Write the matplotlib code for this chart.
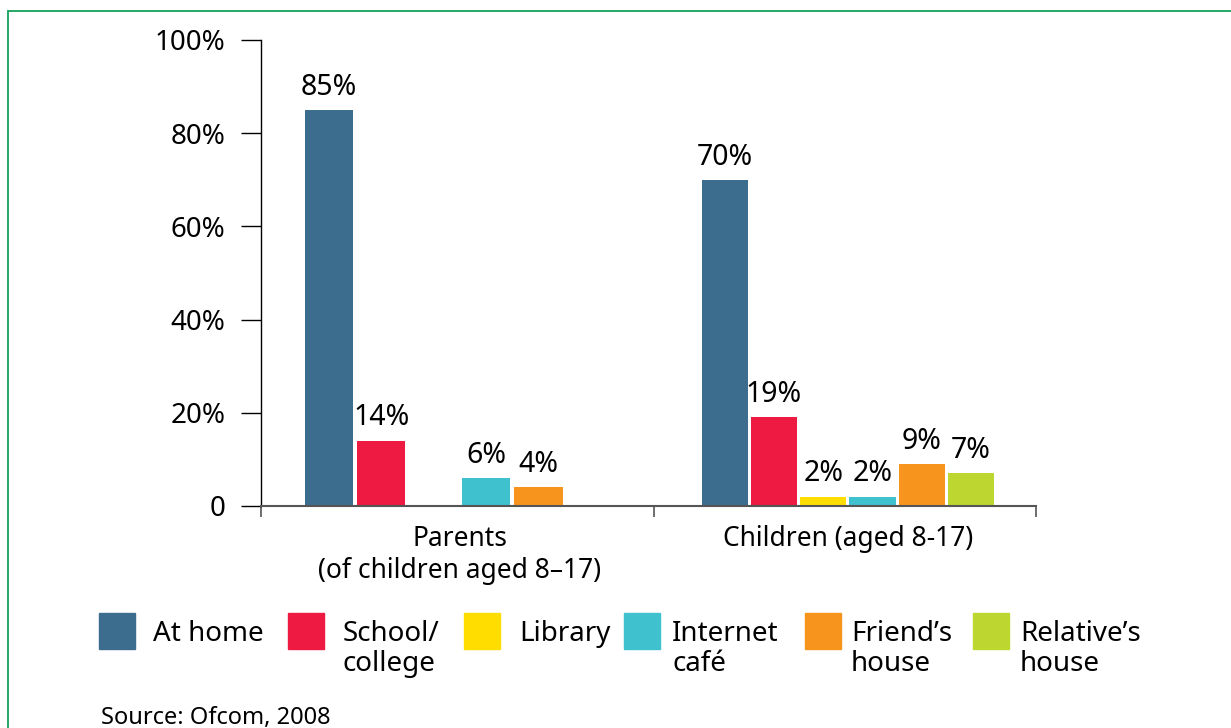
import matplotlib.pyplot as plt
from matplotlib.patches import Rectangle
import numpy as np

plt.rcParams['font.family'] = ['Noto Sans', 'DejaVu Sans']

# Data
groups = ["Parents\n(of children aged 8–17)", "Children (aged 8-17)"]
places = ["At home", "School/\ncollege", "Library", "Internet\ncafé",
          "Friend’s\nhouse", "Relative’s\nhouse"]
parents = [85, 14, 0, 6, 4, 0]
children = [70, 19, 2, 2, 9, 7]
colors = ["#3d6d8e", "#ee1a42", "#ffdd00", "#40c1ce", "#f7941e", "#bed730"]
yticks = [0, 20, 40, 60, 80, 100]
ytick_labels = ["0", "20%", "40%", "60%", "80%", "100%"]
source = "Source: Ofcom, 2008"

W, H = 1231, 728
fig = plt.figure(figsize=(W / 100, H / 100), dpi=100)
ax = fig.add_axes([261 / W, 1 - 506 / H, (1036 - 261) / W, (506 - 40) / H])

# the children group is packed a little tighter than the parents group
slots = [0.135, 0.127]
widths = [0.124, 0.119]
values = np.array([parents, children])
for g in range(len(groups)):
    offs = (np.arange(len(places)) - 2.5) * slots[g]
    bars = ax.bar(g + offs, values[g], width=widths[g], color=colors, zorder=2)
    for b, v in zip(bars, values[g]):
        if v > 0:
            ax.annotate(f"{v}%", (b.get_x() + b.get_width() / 2, v),
                        xytext=(0, 11), textcoords="offset points",
                        ha="center", va="baseline", fontsize=20.5)

ax.set_xlim(-0.513, 1.485)
ax.set_ylim(0, 100)
ax.set_yticks(yticks)
ax.set_yticklabels(ytick_labels)
ax.set_xticks(range(len(groups)))
ax.set_xticklabels(groups, linespacing=1.15)
ax.set_xticks([-0.513, 0.5, 1.485], minor=True)
ax.tick_params(axis="x", which="major", length=0, pad=14, labelsize=19)
ax.tick_params(axis="x", which="minor", length=8, width=1.2, color="#555555")
ax.tick_params(axis="y", length=14.4, width=1, pad=11, labelsize=20)

for s in ["top", "right"]:
    ax.spines[s].set_visible(False)
ax.spines["left"].set_linewidth(1)
ax.spines["bottom"].set_color("#555555")
ax.spines["bottom"].set_linewidth(1.5)

# legend drawn by hand to match the layout
sq_x = [99, 288, 464, 624, 805, 973]
txt_x = [153, 343, 519, 672, 851, 1020]
for sx, tx, lab, col in zip(sq_x, txt_x, places, colors):
    fig.add_artist(Rectangle((sx / W, 1 - 649 / H), 36 / W, 36 / H,
                             transform=fig.transFigure, color=col))
    fig.text(tx / W, 1 - 620 / H, lab, fontsize=20, va="top", ha="left",
             linespacing=1.1)

fig.text(101 / W, 1 - 724 / H, source, fontsize=17, va="baseline", ha="left")

# green frame round the figure
fig.add_artist(Rectangle((8 / W, -0.1), 1.2, 1.1 - 11 / H,
                         transform=fig.transFigure, fill=False,
                         edgecolor="#12a05a", linewidth=1.3, clip_on=False))

fig.savefig("out.png", dpi=100)
